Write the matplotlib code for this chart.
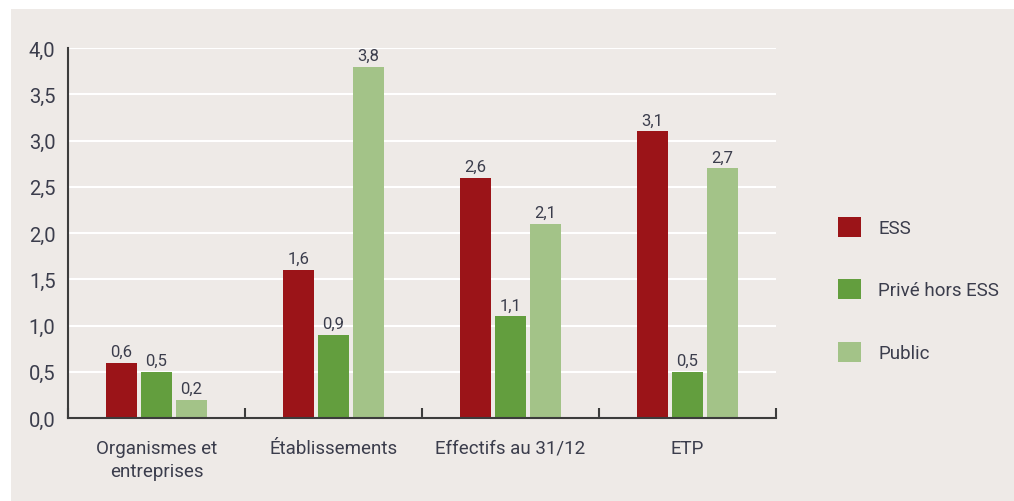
import numpy as np
import matplotlib.pyplot as plt
from matplotlib.patches import Rectangle
from matplotlib.ticker import FixedLocator

categories = ["Organismes et\nentreprises", "Établissements", "Effectifs au 31/12", "ETP"]
series_names = ["ESS", "Privé hors ESS", "Public"]
ess = [0.6, 1.6, 2.6, 3.1]
prive = [0.5, 0.9, 1.1, 0.5]
public = [0.2, 3.8, 2.1, 2.7]
y_ticks = [0.0, 0.5, 1.0, 1.5, 2.0, 2.5, 3.0, 3.5, 4.0]

colors = ["#9b1418", "#639e3e", "#a3c388"]
bg = "#eeeae7"
text_col = "#3b3d4c"

plt.rcParams['font.family'] = ['Roboto', 'DejaVu Sans']

fig = plt.figure(figsize=(10.14, 5.02), dpi=100, facecolor="white")
# grey panel with a thin white margin on left and top
fig.patches.append(Rectangle((11 / 1014, 0), 1, 492 / 502, transform=fig.transFigure,
                             facecolor=bg, edgecolor="none", zorder=-10))

ax = fig.add_axes([68 / 1014, 83 / 502, 708 / 1014, 370 / 502])
ax.set_facecolor(bg)

x = np.arange(len(categories))
w = 0.18
step = 0.198
for i, (vals, name) in enumerate(zip([ess, prive, public], series_names)):
    pos = x + (i - 1) * step
    bars = ax.bar(pos, vals, width=w, color=colors[i], label=name, zorder=3)
    for b, v in zip(bars, vals):
        ax.text(b.get_x() + b.get_width() / 2, v + 0.04, f"{v:.1f}".replace(".", ","),
                ha="center", va="bottom", fontsize=12, color=text_col)

ax.set_xlim(-0.5, len(categories) - 0.5)
ax.set_ylim(0, 4.0)
ax.set_yticks(y_ticks)
ax.set_yticklabels([f"{t:.1f}".replace(".", ",") for t in y_ticks])
ax.set_xticks(x)
ax.set_xticklabels(categories, linespacing=1.35)
ax.xaxis.set_minor_locator(FixedLocator(np.arange(len(categories) + 1) - 0.5))

ax.tick_params(axis="x", which="major", length=0, pad=15, labelsize=13.5, labelcolor=text_col)
ax.tick_params(axis="x", which="minor", direction="in", length=7, width=1.5, color="#3c3c3c")
ax.tick_params(axis="y", length=0, pad=9, labelsize=14.5, labelcolor=text_col)

ax.grid(axis="y", color="white", linewidth=1.5, zorder=0)
ax.set_axisbelow(True)
for s in ["top", "right"]:
    ax.spines[s].set_visible(False)
for s in ["left", "bottom"]:
    ax.spines[s].set_color("#3c3c3c")
    ax.spines[s].set_linewidth(1.5)
    ax.spines[s].set_zorder(4)

leg = fig.legend(loc="upper left", bbox_to_anchor=(821 / 1014, 1 - 201 / 502), frameon=False,
                 fontsize=13.5, handlelength=1.25, handleheight=1.25, labelspacing=2.25,
                 handletextpad=0.9, labelcolor=text_col)

fig.savefig("out.png", dpi=100, facecolor=fig.get_facecolor())
